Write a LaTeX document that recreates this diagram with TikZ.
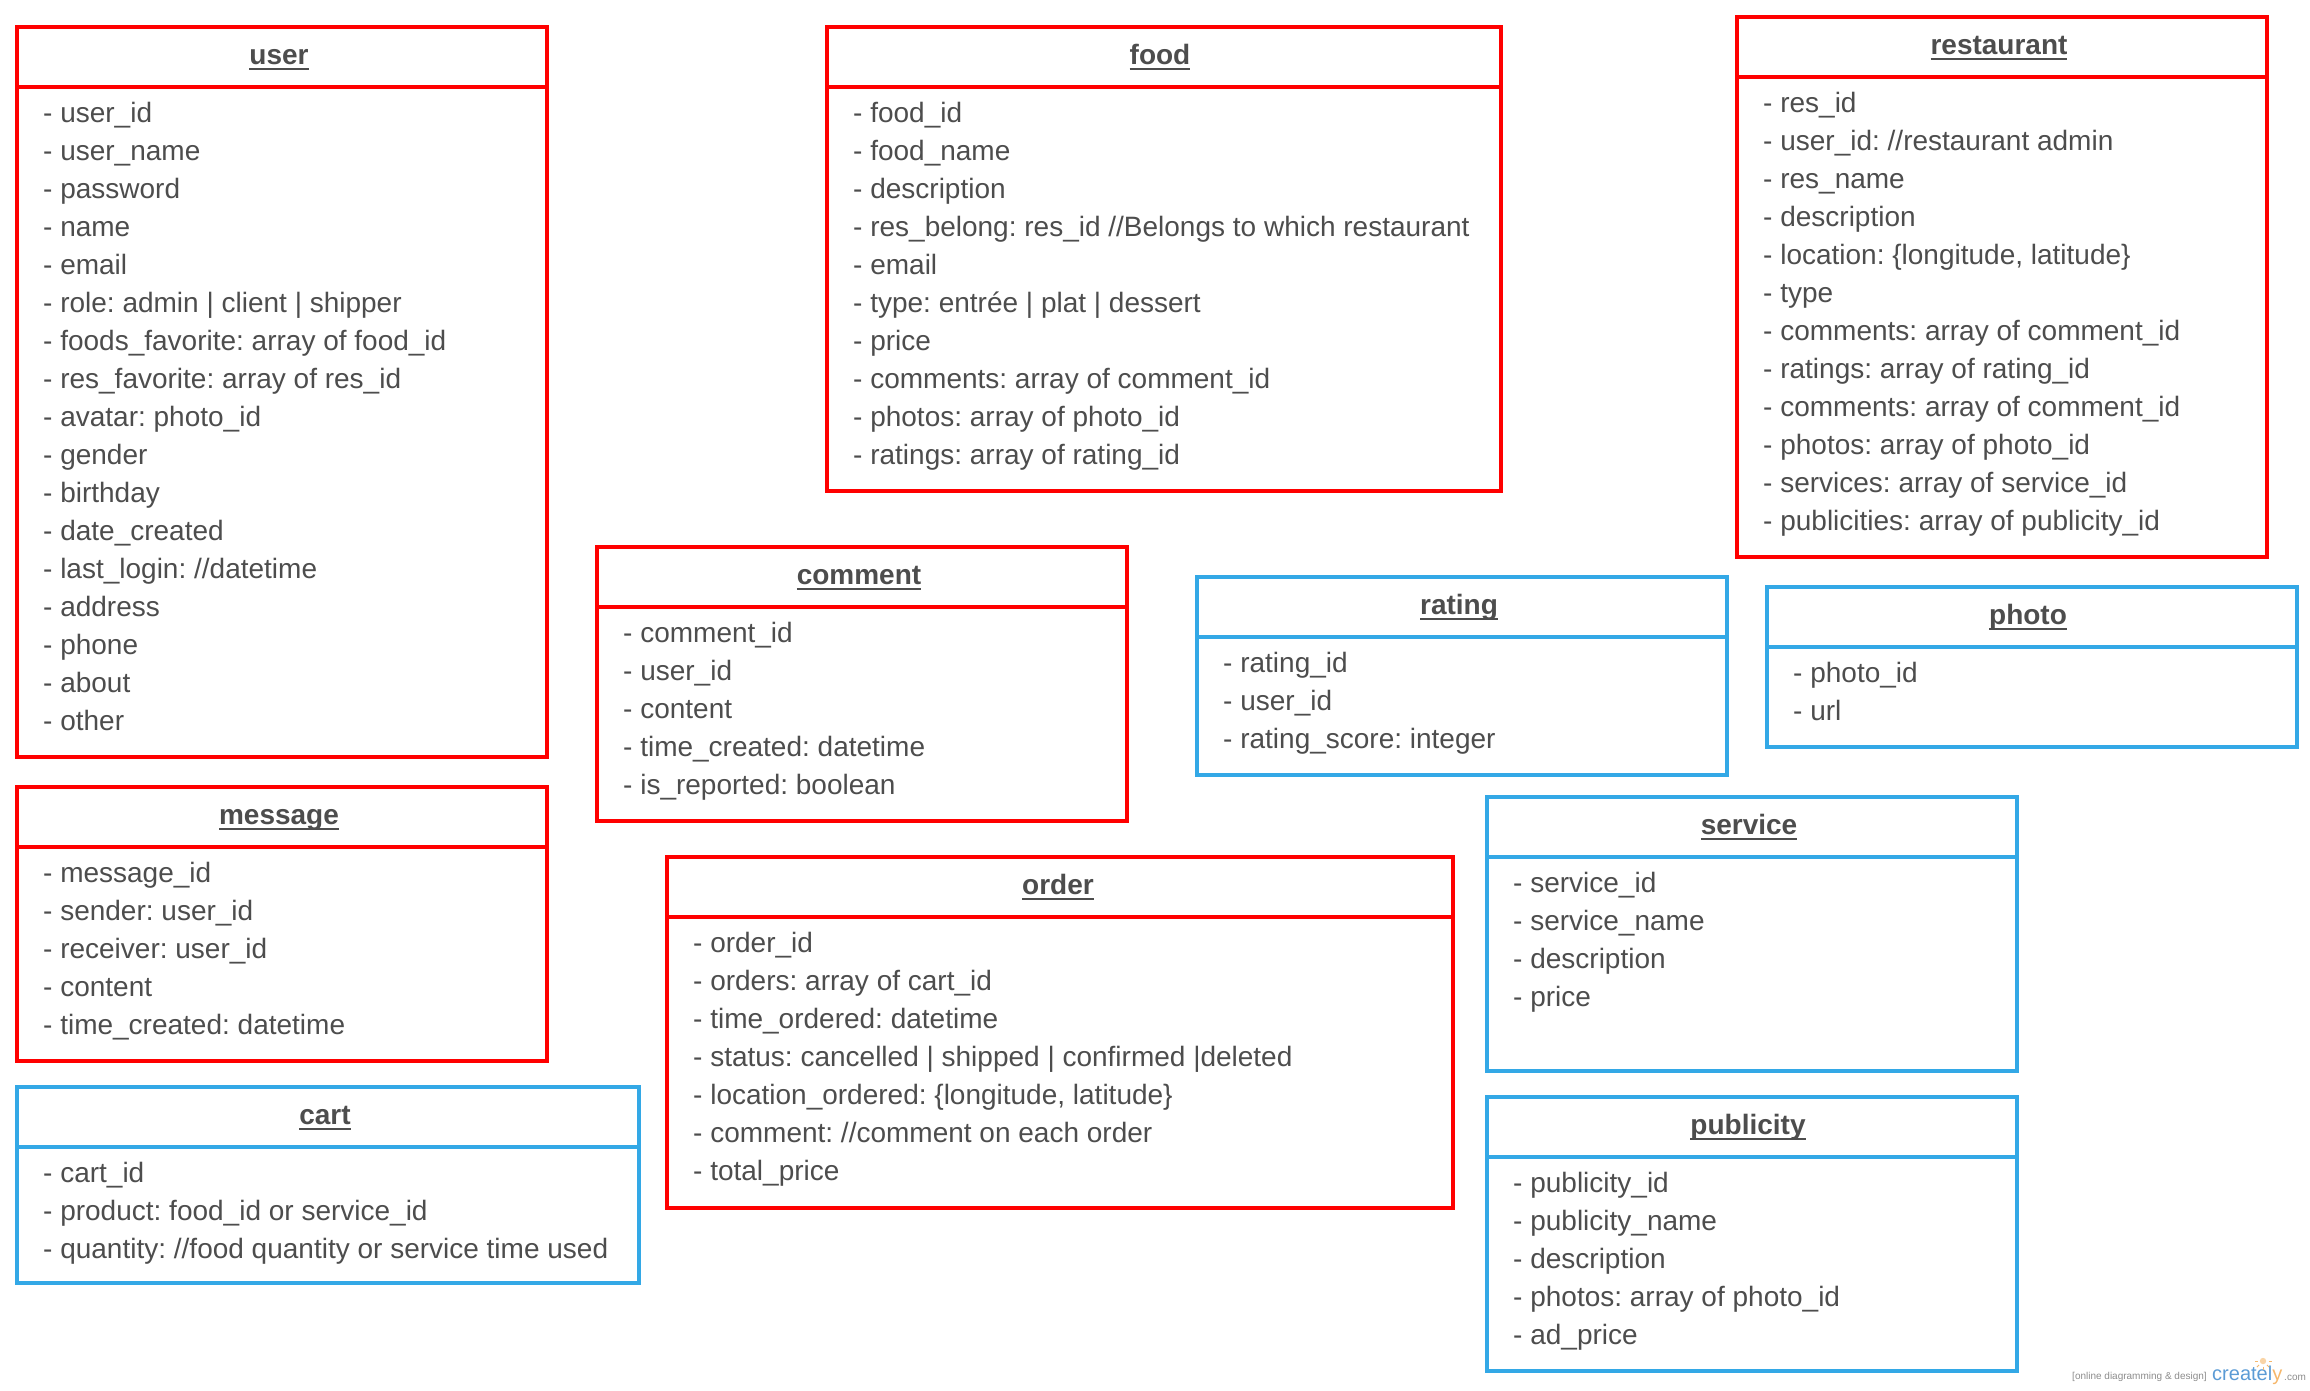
\documentclass[tikz,border=0pt]{standalone}
\usepackage{fontspec}
\setmainfont{Liberation Sans}
\definecolor{boxred}{HTML}{FF0000}
\definecolor{boxblue}{HTML}{33A8E6}
\definecolor{inktext}{HTML}{4D4D4D}
\definecolor{crblue}{HTML}{5B9BD5}
\definecolor{crorange}{HTML}{F5B76B}
\newcommand\ulttl[1]{\setbox0\hbox{#1}\rlap{\rule[-5pt]{\wd0}{1.5pt}}\box0}
\newcommand\fl{\rule{0pt}{24pt}}
\tikzset{
  entitybox/.style={draw=#1,line width=4pt,fill=white,rectangle,inner sep=0pt,outer sep=0pt,anchor=north west},
  titletext/.style={font=\fontsize{28}{38}\selectfont\bfseries,text=inktext,inner sep=0pt,anchor=base},
  bodytext/.style={font=\fontsize{28}{38}\selectfont\frenchspacing,text=inktext,inner sep=0pt,anchor=north west,align=left},
}
% id, x, y, w, h, colour, title, title offset, lines
\newcommand\entity[9]{%
  \node[entitybox=#6,minimum width=#4pt,minimum height=#5pt] (#1box) at (#2,#3) {};
  \draw[draw=#6,line width=4pt] ([yshift=-60pt]#1box.north west) -- ([yshift=-60pt]#1box.north east);
  \node[titletext] (#1title) at ([xshift=#8pt,yshift=-37.5pt]#1box.north) {\ulttl{#7}};
  \node[bodytext] (#1body) at ([xshift=26pt,yshift=-71.5pt]#1box.north west) {\fl #9};
}
\begin{document}
\begin{tikzpicture}[x=1pt,y=-1pt]
\useasboundingbox (0,0) rectangle (2310,1390);
\entity{user}{17}{27}{530}{730}{boxred}{user}{-3}{- user\_id\\- user\_name\\- password\\- name\\- email\\- role: admin | client | shipper\\- foods\_favorite: array of food\_id\\- res\_favorite: array of res\_id\\- avatar: photo\_id\\- gender\\- birthday\\- date\_created\\- last\_login: //datetime\\- address\\- phone\\- about\\- other}
\entity{food}{827}{27}{674}{464}{boxred}{food}{-4}{- food\_id\\- food\_name\\- description\\- res\_belong: res\_id //Belongs to which restaurant\\- email\\- type: entrée | plat | dessert\\- price\\- comments: array of comment\_id\\- photos: array of photo\_id\\- ratings: array of rating\_id}
\entity{restaurant}{1737}{17}{530}{540}{boxred}{restaurant}{-3}{- res\_id\\- user\_id: //restaurant admin\\- res\_name\\- description\\- location: \{longitude, latitude\}\\- type\\- comments: array of comment\_id\\- ratings: array of rating\_id\\- comments: array of comment\_id\\- photos: array of photo\_id\\- services: array of service\_id\\- publicities: array of publicity\_id}
\entity{comment}{597}{547}{530}{274}{boxred}{comment}{-3}{- comment\_id\\- user\_id\\- content\\- time\_created: datetime\\- is\_reported: boolean}
\entity{rating}{1197}{577}{530}{198}{boxblue}{rating}{-3}{- rating\_id\\- user\_id\\- rating\_score: integer}
\entity{photo}{1767}{587}{530}{160}{boxblue}{photo}{-4}{- photo\_id\\- url}
\entity{message}{17}{787}{530}{274}{boxred}{message}{-3}{- message\_id\\- sender: user\_id\\- receiver: user\_id\\- content\\- time\_created: datetime}
\entity{cart}{17}{1087}{622}{196}{boxblue}{cart}{-3}{- cart\_id\\- product: food\_id or service\_id\\- quantity: //food quantity or service time used}
\entity{order}{667}{857}{786}{351}{boxred}{order}{-2}{- order\_id\\- orders: array of cart\_id\\- time\_ordered: datetime\\- status: cancelled | shipped | confirmed |deleted\\- location\_ordered: \{longitude, latitude\}\\- comment: //comment on each order\\- total\_price}
\entity{service}{1487}{797}{530}{274}{boxblue}{service}{-3}{- service\_id\\- service\_name\\- description\\- price}
\entity{publicity}{1487}{1097}{530}{274}{boxblue}{publicity}{-4}{- publicity\_id\\- publicity\_name\\- description\\- photos: array of photo\_id\\- ad\_price}
% watermark
\node[anchor=base west,inner sep=0pt,text=black!45,font=\fontsize{10}{11}\selectfont] (wmtag) at (2072,1379) {[online diagramming \& design]};
\node[anchor=base west,inner sep=0pt,font=\fontsize{20}{22}\selectfont] (wmlogo) at (2212,1380) {\textcolor{crblue}{createl}\textcolor{crorange}{y}};
\node[anchor=base west,inner sep=0pt,text=black!45,font=\fontsize{10}{11}\selectfont] (wmcom) at (2284,1380) {.com};
\fill[crorange!60] (2263,1361) circle (3.2);
\foreach \a in {0,45,90,135,180} \draw[crorange,line width=0.8pt] (2263,1361) ++({\a}:5.5) -- ++({\a}:3);
\end{tikzpicture}
\end{document}
